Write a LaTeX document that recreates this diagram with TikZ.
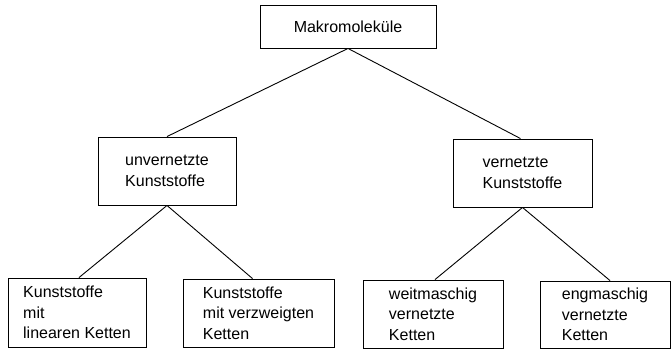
\documentclass[tikz,border=0pt]{standalone}
\usepackage{fontspec}
\setmainfont{Liberation Sans}
\begin{document}
\begin{tikzpicture}[x=1pt,y=-1pt,
  box/.style={draw, line width=0.9pt, inner sep=0pt, align=left,
    font=\fontsize{16}{20.5}\selectfont},
  conn/.style={line width=0.9pt}]
\useasboundingbox (0,0) rectangle (672,349);
\node[box, minimum width=176pt, minimum height=43pt] (top) at (348,26.5) {Makromoleküle};
\node[box, minimum width=138pt, minimum height=68pt] (lm) at (167,171) {unvernetzte\\Kunststoffe};
\node[box, minimum width=139pt, minimum height=68pt] (rm) at (522.5,173) {vernetzte\\Kunststoffe};
\node[box, minimum width=138pt, minimum height=69pt] (b1) at (77,312.5) {Kunststoffe\\mit\\linearen Ketten};
\node[box, minimum width=151pt, minimum height=68pt] (b2) at (258.5,313) {Kunststoffe\\mit verzweigten\\Ketten};
\node[box, minimum width=140pt, minimum height=68pt] (b3) at (433,314) {weitmaschig\\vernetzte\\Ketten};
\node[box, minimum width=130pt, minimum height=67pt] (b4) at (605,314.5) {engmaschig\\vernetzte\\Ketten};
\draw[conn] (top.south) -- (lm.north);
\draw[conn] (top.south) -- ([xshift=-2pt]rm.north);
\draw[conn] (lm.south) -- ([xshift=2pt]b1.north);
\draw[conn] (lm.south) -- ([xshift=-6pt]b2.north);
\draw[conn] (rm.south) -- ([xshift=2pt]b3.north);
\draw[conn] (rm.south) -- ([xshift=5pt]b4.north);
\end{tikzpicture}
\end{document}
